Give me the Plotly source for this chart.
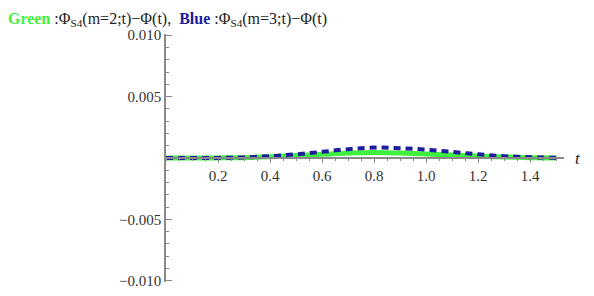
import plotly.graph_objects as go

# values
t = [0.0, 0.1, 0.2, 0.3, 0.4, 0.5, 0.6, 0.7, 0.8, 0.9, 1.0, 1.1, 1.2, 1.3, 1.4, 1.5]
green = [0.0, 0.0, 0.00001, 0.00003, 0.0001, 0.0002, 0.0003, 0.0004, 0.00045, 0.0004,
         0.00033, 0.00024, 0.00015, 0.00008, 0.00003, 0.00001]
blue = [0.0, 0.0, 0.00001, 0.00005, 0.00015, 0.0003, 0.0005, 0.00072, 0.00085, 0.0008,
        0.00068, 0.0005, 0.0003, 0.00015, 0.00006, 0.00002]

x_ticks = [0.2, 0.4, 0.6, 0.8, 1.0, 1.2, 1.4]
y_ticks = [-0.01, -0.005, 0.005, 0.01]
y_labels = ['\u22120.010', '\u22120.005', '0.005', '0.010']

font = 'Times New Roman, Liberation Serif, serif'
axis_col = '#8a8a8a'

fig = go.Figure()
fig.add_trace(go.Scatter(
    x=t, y=green, mode='lines', line_shape='spline',
    line=dict(color='#3ff03f', width=5), name='m=2'
))
fig.add_trace(go.Scatter(
    x=t, y=blue, mode='lines', line_shape='spline',
    line=dict(color='#1c1c9c', width=4, dash='7px,5px'), name='m=3'
))

title = ('<b><span style="color:#3ff03f">Green</span></b> :\u03a6<sub>S4</sub>(m=2;t)\u2212\u03a6(t),  '
         '<b><span style="color:#1c1c9c">Blue</span></b> :\u03a6<sub>S4</sub>(m=3;t)\u2212\u03a6(t)')

# the page puts the figure 8px in from the top-left corner
fig.update_layout(
    width=586, height=288,
    margin=dict(l=158, r=30, t=26, b=14, autoexpand=False),
    paper_bgcolor='white', plot_bgcolor='white',
    showlegend=False,
    font=dict(family=font, size=14, color='#222222'),
    title=dict(text=title, x=0.0, xref='container', xanchor='left',
               y=0.985, yref='container', yanchor='top',
               font=dict(family=font, size=16, color='#222222')),
)
fig.update_xaxes(
    range=[0, 1.53], showgrid=False, zeroline=False, automargin=False,
    anchor='free', position=0.5,
    showline=True, linecolor=axis_col, linewidth=1.5,
    tickvals=x_ticks, ticktext=[f'{v:.1f}' for v in x_ticks],
    ticks='outside', ticklen=4, tickcolor=axis_col,
    minor=dict(dtick=0.05, tick0=0, ticks='outside', ticklen=2, tickcolor=axis_col),
    tickfont=dict(family=font, size=15, color='#333333'),
)
fig.update_yaxes(
    range=[-0.0101, 0.0101], showgrid=False, zeroline=False, automargin=False,
    showline=True, linecolor=axis_col, linewidth=1.5,
    tickvals=y_ticks, ticktext=y_labels,
    ticks='inside', ticklen=6, tickcolor=axis_col,
    minor=dict(dtick=0.001, tick0=0, ticks='inside', ticklen=3, tickcolor=axis_col),
    tickfont=dict(family=font, size=15, color='#333333'),
)
fig.add_annotation(
    x=1.022, y=0.5, xref='paper', yref='paper', xanchor='left', yanchor='middle',
    text='<i>t</i>', showarrow=False, font=dict(family=font, size=17, color='#222222')
)

fig.write_html('out.html')
